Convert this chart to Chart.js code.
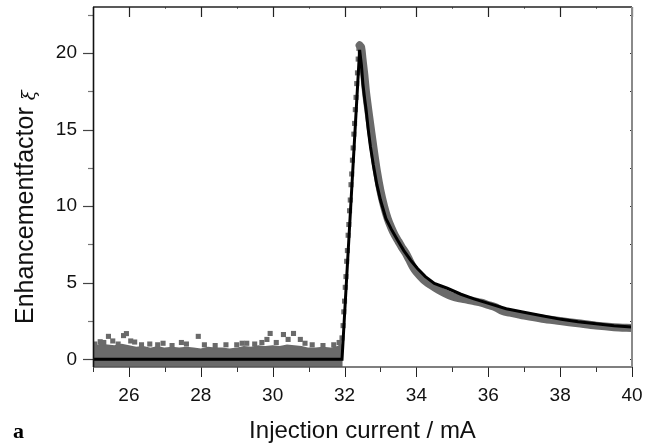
<!DOCTYPE html>
<html>
<head>
<meta charset="utf-8">
<script src="https://cdn.jsdelivr.net/npm/chart.js@4.4.1/dist/chart.umd.min.js"></script>
<style>
html,body{margin:0;padding:0;background:#fff;}
#wrap{width:655px;height:446px;position:relative;}
</style>
</head>
<body>
<div id="wrap"><canvas id="c" width="655" height="446"></canvas></div>
<script>
// ---- tick labels ----
const xMajorTicks = [26, 28, 30, 32, 34, 36, 38, 40];
const xMinorTicks = [25, 27, 29, 31, 33, 35, 37, 39];
const yMajorTicks = [0, 5, 10, 15, 20];
const yMinorTicks = [2.5, 7.5, 12.5, 17.5, 22.5];

// ---- measured data: noisy baseline below threshold (band top edge) ----
const bandCurrent = [25.0, 25.2, 25.4, 25.6, 25.8, 26.0, 26.2, 26.4, 26.6, 26.8,
                     27.0, 27.2, 27.4, 27.6, 27.8, 28.0, 28.2, 28.4, 28.6, 28.8,
                     29.0, 29.2, 29.4, 29.6, 29.8, 30.0, 30.2, 30.4, 30.6, 30.8,
                     31.0, 31.2, 31.4, 31.6, 31.8, 31.95];
const bandTop     = [0.80, 0.95, 0.90, 0.85, 0.95, 0.85, 0.75, 0.80, 0.70, 0.80,
                     0.70, 0.75, 0.70, 0.75, 0.70, 0.65, 0.75, 0.70, 0.70, 0.65,
                     0.70, 0.80, 0.75, 0.85, 0.80, 0.85, 0.80, 0.90, 0.85, 0.80,
                     0.70, 0.70, 0.75, 0.70, 0.80, 0.90];

// ---- measured data: scattered noise points above the band ----
const noiseCurrent = [25.05, 25.2, 25.3, 25.43, 25.55, 25.7, 25.85, 25.93, 26.05, 26.16,
                      26.35, 26.58, 26.8, 26.95, 27.2, 27.46, 27.6, 27.93, 28.1, 28.4,
                      28.7, 29.0, 29.15, 29.28, 29.5, 29.7, 29.84, 29.93, 30.1, 30.3,
                      30.43, 30.58, 30.77, 30.9, 31.1, 31.4, 31.7, 31.85];
const noiseValue   = [1.00, 1.15, 1.10, 1.50, 1.20, 1.00, 1.55, 1.68, 1.20, 1.13,
                      0.95, 1.00, 0.95, 1.05, 0.90, 1.10, 1.00, 1.50, 0.95, 0.90,
                      0.95, 0.95, 1.05, 1.05, 1.00, 1.10, 1.30, 1.69, 1.10, 1.62,
                      1.30, 1.69, 1.30, 1.05, 0.95, 0.90, 0.95, 1.10];

// ---- measured data: rising edge ----
const riseCurrent = [31.90, 31.93, 31.96, 31.98, 32.00, 32.02, 32.04, 32.06, 32.08, 32.10,
                     32.12, 32.14, 32.16, 32.18, 32.20, 32.22, 32.24, 32.26, 32.28, 32.30,
                     32.32, 32.34, 32.36, 32.38, 32.40];
const riseValue   = [0.8, 1.4, 2.2, 3.1, 3.8, 4.7, 5.4, 6.4, 7.1, 8.1,
                     8.8, 9.7, 10.4, 11.4, 12.1, 13.0, 13.8, 14.7, 15.4, 16.3,
                     17.1, 18.0, 18.7, 19.6, 20.3];

// ---- measured data: decay after the peak ----
const decayCurrent = [32.42, 32.46, 32.50, 32.55, 32.60, 32.70, 32.80, 32.90, 33.00, 33.10,
                      33.20, 33.30, 33.40, 33.50, 33.60, 33.70, 33.80, 33.90, 34.00, 34.20,
                      34.40, 34.60, 34.80, 35.00, 35.20, 35.40, 35.60, 35.80, 36.00, 36.20,
                      36.40, 36.60, 36.80, 37.00, 37.50, 38.00, 38.50, 39.00, 39.50, 40.00];
const decayValue   = [20.5, 20.4, 19.6, 18.6, 17.4, 15.6, 13.9, 12.3, 11.0, 10.0,
                      9.2, 8.6, 8.1, 7.7, 7.3, 6.95, 6.5, 6.05, 5.7, 5.2,
                      4.85, 4.55, 4.3, 4.1, 3.98, 3.9, 3.8, 3.7, 3.55, 3.4,
                      3.15, 3.05, 2.95, 2.85, 2.65, 2.5, 2.35, 2.2, 2.1, 2.05];

// ---- fitted curve ----
const fitCurrent = [25.0, 31.93, 32.42, 32.47, 32.51, 32.56, 32.60, 32.66, 32.72, 32.80,
                    32.90, 33.00, 33.15, 33.30, 33.47, 33.65, 33.84, 34.03, 34.25, 34.50,
                    34.86, 35.24, 35.60, 36.03, 36.50, 37.10, 37.50, 38.03, 38.50, 39.00,
                    39.50, 40.00];
const fitValue   = [0, 0, 20.2, 19.2, 18.0, 17.0, 16.3, 15.0, 13.9, 12.7,
                    11.4, 10.4, 9.2, 8.5, 7.8, 7.1, 6.47, 5.93, 5.4, 4.95,
                    4.64, 4.25, 3.95, 3.64, 3.3, 3.03, 2.85, 2.61, 2.45, 2.33,
                    2.2, 2.11];

const pts = (xs, ys) => xs.map((x, i) => ({x: x, y: ys[i]}));

const GRAY = '#6a6a6a';
const AREA = {left: 93, right: 632, top: 7, bottom: 367};

const zeroPad = s => { s.paddingTop = 0; s.paddingBottom = 0; s.paddingLeft = 0; s.paddingRight = 0; };

const framePlugin = {
  id: 'frame',
  afterDatasetsDraw(chart) {
    const ctx = chart.ctx;
    const xs = chart.scales.x, ys = chart.scales.y;
    const ca = chart.chartArea;
    ctx.save();
    const line = (x1, y1, x2, y2, col, w) => {
      ctx.strokeStyle = col; ctx.lineWidth = w;
      ctx.beginPath(); ctx.moveTo(x1, y1); ctx.lineTo(x2, y2); ctx.stroke();
    };
    xMajorTicks.forEach(v => {
      const px = Math.round(xs.getPixelForValue(v)) + 0.5;
      line(px, ca.bottom, px, ca.bottom + 10, '#222', 1);
      line(px, ca.top, px, ca.top + 10, '#222', 1.2);
    });
    xMinorTicks.forEach(v => {
      const px = Math.round(xs.getPixelForValue(v)) + 0.5;
      line(px, ca.bottom, px, ca.bottom + 5, '#333', 1);
      line(px, ca.top, px, ca.top + 2, '#777', 1);
    });
    yMajorTicks.forEach(v => {
      const py = Math.round(ys.getPixelForValue(v)) + 0.5;
      line(ca.left - 10, py, ca.left, py, '#444', 1.2);
      line(ca.right - 2, py, ca.right, py, '#333', 1);
    });
    yMinorTicks.forEach(v => {
      const py = Math.round(ys.getPixelForValue(v)) + 0.5;
      line(ca.left - 5, py, ca.left, py, '#777', 1.2);
      line(ca.right - 2, py, ca.right, py, '#333', 1);
    });
    line(ca.left, ca.top, ca.right, ca.top, '#222', 1.5);
    line(ca.left, ca.bottom, ca.right, ca.bottom, '#555', 1.3);
    line(ca.left + 0.5, ca.top, ca.left + 0.5, ca.bottom, '#111', 1.6);
    line(ca.right, ca.top, ca.right, ca.bottom, '#8a8a8a', 2);
    ctx.restore();
  },
  afterDraw(chart) {
    const ctx = chart.ctx;
    ctx.save();
    ctx.translate(33, 324);
    ctx.rotate(-Math.PI / 2);
    ctx.fillStyle = '#111';
    ctx.font = '25px "Liberation Sans", Arial, sans-serif';
    ctx.textAlign = 'left';
    ctx.textBaseline = 'alphabetic';
    const t = 'Enhancementfactor';
    ctx.fillText(t, 0, 0);
    const w = ctx.measureText(t).width;
    ctx.font = 'italic 18px "DejaVu Serif", serif';
    ctx.fillText('\u03BE', w + 7, 2);
    ctx.restore();
    ctx.save();
    ctx.fillStyle = '#000';
    ctx.font = 'bold 22px "Liberation Serif", "Times New Roman", serif';
    ctx.textAlign = 'left';
    ctx.textBaseline = 'alphabetic';
    ctx.fillText('a', 13, 438);
    ctx.restore();
  }
};

new Chart(document.getElementById('c'), {
  type: 'scatter',
  data: {
    datasets: [
      { label: 'fit', data: pts(fitCurrent, fitValue), showLine: true, borderColor: '#000',
        borderWidth: 3, pointRadius: 0, tension: 0, fill: false },
      { label: 'decay', data: pts(decayCurrent, decayValue), showLine: true, borderColor: GRAY,
        borderWidth: 8, pointRadius: 0, tension: 0.3, fill: false, borderCapStyle: 'round', borderJoinStyle: 'round' },
      { label: 'rise', data: pts(riseCurrent, riseValue), showLine: false, pointStyle: 'rect',
        pointRadius: 3.6, backgroundColor: GRAY, borderWidth: 0 },
      { label: 'noise', data: pts(noiseCurrent, noiseValue), showLine: false, pointStyle: 'rect',
        pointRadius: 3.6, backgroundColor: GRAY, borderWidth: 0 },
      { label: 'band', data: pts(bandCurrent, bandTop), showLine: true, borderColor: GRAY,
        backgroundColor: GRAY, borderWidth: 2, pointRadius: 0, tension: 0, fill: 'start' }
    ]
  },
  options: {
    responsive: false,
    animation: false,
    events: [],
    layout: { padding: { left: 0, right: 655 - AREA.right, top: AREA.top, bottom: 0 } },
    plugins: { legend: { display: false }, tooltip: { enabled: false } },
    scales: {
      x: {
        type: 'linear', min: 25, max: 40,
        grid: { display: false, drawTicks: false },
        border: { display: false },
        afterBuildTicks: s => { s.ticks = xMajorTicks.map(v => ({value: v})); },
        afterFit: s => { s.height = 446 - AREA.bottom; zeroPad(s); },
        ticks: { padding: 17, color: '#111', font: { family: '"Liberation Sans", Arial, sans-serif', size: 19 } },
        title: { display: true, text: 'Injection current / mA', color: '#111',
                 font: { family: '"Liberation Sans", Arial, sans-serif', size: 24 },
                 padding: { top: 0, bottom: 0 } }
      },
      y: {
        type: 'linear', min: -0.5, max: 23,
        grid: { display: false, drawTicks: false },
        border: { display: false },
        afterBuildTicks: s => { s.ticks = yMajorTicks.map(v => ({value: v})); },
        afterFit: s => { s.width = AREA.left; zeroPad(s); },
        ticks: { padding: 16, color: '#111', font: { family: '"Liberation Sans", Arial, sans-serif', size: 19 } }
      }
    }
  },
  plugins: [framePlugin]
});
</script>
</body>
</html>
